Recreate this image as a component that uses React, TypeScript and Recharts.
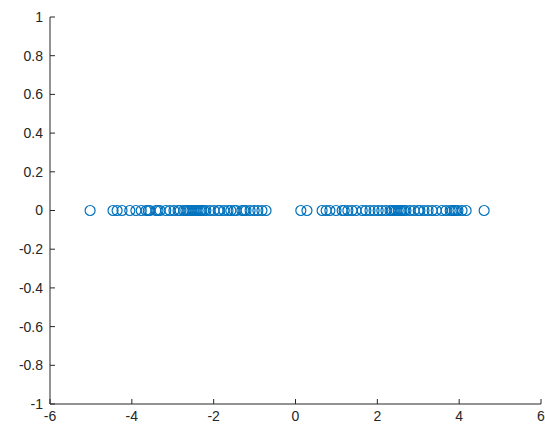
import React from 'react';
import { ScatterChart, Scatter, XAxis, YAxis } from 'recharts';

const leftCluster = [
  -5.02, -4.46, -4.36, -4.24, -4.05, -3.9, -3.77, -3.65, -3.6, -3.56, -3.41, -3.36, -3.31,
  -3.17, -3.07, -2.97, -2.87, -2.82, -2.73, -2.68, -2.63, -2.58, -2.53, -2.48, -2.43, -2.38,
  -2.33, -2.29, -2.24, -2.19, -2.09, -1.99, -1.89, -1.85, -1.75, -1.65, -1.58, -1.5, -1.45,
  -1.31, -1.26, -1.21, -1.11, -1.01, -0.92, -0.82, -0.72,
];
const rightCluster = [
  0.13, 0.28, 0.65, 0.75, 0.84, 0.99, 1.14, 1.19, 1.28, 1.38, 1.48, 1.63, 1.72, 1.82, 1.92,
  2.02, 2.11, 2.21, 2.31, 2.36, 2.41, 2.46, 2.51, 2.56, 2.6, 2.65, 2.7, 2.8, 2.9, 3.0, 3.04,
  3.14, 3.24, 3.34, 3.44, 3.58, 3.68, 3.78, 3.83, 3.88, 3.92, 3.97, 4.07, 4.17, 4.61,
];
const yLevel = 0;

const xTicks = [-6, -4, -2, 0, 2, 4, 6];
const yTicks = [-1, -0.8, -0.6, -0.4, -0.2, 0, 0.2, 0.4, 0.6, 0.8, 1];

const data = [...leftCluster, ...rightCluster].map((x) => ({ x, y: yLevel }));

const markerColor = '#0072BD';
const axisColor = '#262626';
const fontFamily = '"Liberation Sans", Arial, Helvetica, sans-serif';

const Ring = (props: any) => {
  const { cx, cy } = props;
  return <circle cx={cx} cy={cy} r={5} fill="none" stroke={markerColor} strokeWidth={1.2} />;
};

export default function App() {
  return (
    <div style={{ position: 'absolute', left: 0, top: 0, width: 545, height: 427, background: '#fff' }}>
      <ScatterChart width={545} height={427} margin={{ top: 17, right: 4, bottom: 0, left: 0 }}>
        <XAxis
          type="number"
          dataKey="x"
          domain={[-6, 6]}
          ticks={xTicks}
          interval={0}
          height={23}
          tickSize={-5}
          tickMargin={12}
          stroke={axisColor}
          tick={{ fill: '#262626', fontSize: 14, fontFamily }}
          tickLine={{ stroke: axisColor }}
          allowDataOverflow
        />
        <YAxis
          type="number"
          dataKey="y"
          domain={[-1, 1]}
          ticks={yTicks}
          interval={0}
          width={50}
          tickSize={-5}
          tickMargin={12}
          stroke={axisColor}
          tickFormatter={(v: number) => String(v)}
          tick={{ fill: '#262626', fontSize: 14, fontFamily }}
          tickLine={{ stroke: axisColor }}
          allowDataOverflow
        />
        <Scatter data={data} shape={<Ring />} isAnimationActive={false} />
      </ScatterChart>
    </div>
  );
}
